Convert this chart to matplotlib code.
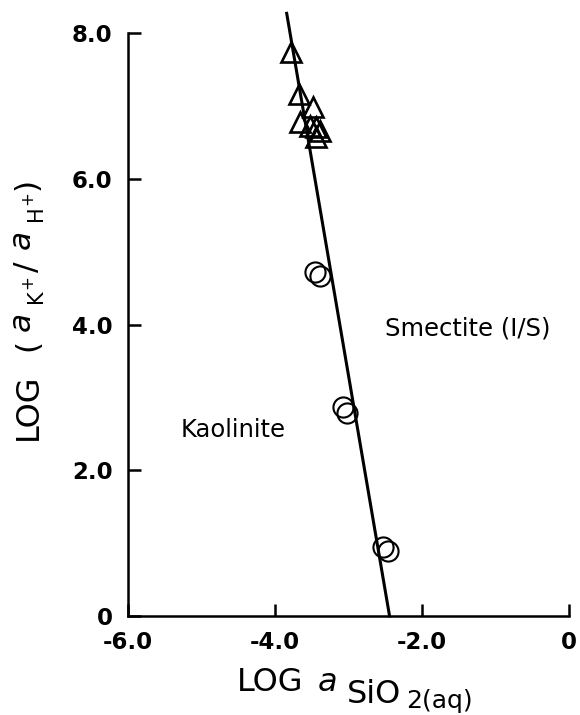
import matplotlib
matplotlib.use('Agg')
import matplotlib.pyplot as plt

plt.rcParams['font.family'] = ['DejaVu Sans']

# 数据: 三角形 (高 log K+/H+) 和圆圈
tri_x = [-3.785, -3.677, -3.486, -3.663, -3.527, -3.446, -3.391, -3.446]
tri_y = [7.74, 7.17, 6.98, 6.78, 6.73, 6.71, 6.66, 6.58]
circ_x = [-3.459, -3.391, -3.079, -3.024, -2.535, -2.467]
circ_y = [4.72, 4.66, 2.87, 2.78, 0.95, 0.89]

# 相界线 Kaolinite / Smectite
line_x = [-3.84, -2.44]
line_y = [8.27, 0.0]

xticks = [-6, -4, -2, 0]
xtick_labels = ['-6.0', '-4.0', '-2.0', '0']
yticks = [0, 2, 4, 6, 8]
ytick_labels = ['0', '2.0', '4.0', '6.0', '8.0']

W, H = 580, 715
fig = plt.figure(figsize=(W / 100, H / 100), dpi=100)
ax = fig.add_axes([0.2207, 0.1385, 0.76, 0.8153])


def put(x, y, s, size, rot=0, **kw):
    """按像素位置(左上角为原点)放一段文字, 锚点为基线起点"""
    fig.text(x / W, 1 - y / H, s, fontsize=size, rotation=rot,
             rotation_mode='anchor', ha='left', va='baseline', **kw)


ax.plot(line_x, line_y, color='black', lw=2.2, clip_on=False, zorder=2)
ax.plot(tri_x, tri_y, linestyle='none', marker='^', ms=15, mfc='none',
        mec='black', mew=1.9, clip_on=False, zorder=3)
ax.plot(circ_x, circ_y, linestyle='none', marker='o', ms=14.5, mfc='none',
        mec='black', mew=1.5, clip_on=False, zorder=3)

ax.text(-2.50, 3.95, 'Smectite (I/S)', fontsize=17.5, va='center', ha='left')
ax.text(-5.29, 2.55, 'Kaolinite', fontsize=17.5, va='center', ha='left')

ax.set_xlim(-6, 0)
ax.set_ylim(0, 8)
ax.set_xticks(xticks)
ax.set_xticklabels(xtick_labels)
ax.set_yticks(yticks)
ax.set_yticklabels(ytick_labels)
ax.tick_params(direction='in', length=9, width=1.8, labelsize=16.5, pad=11)
for lab in ax.get_xticklabels() + ax.get_yticklabels():
    lab.set_fontweight('bold')

for s in ['top', 'right']:
    ax.spines[s].set_visible(False)
for s in ['left', 'bottom']:
    ax.spines[s].set_linewidth(1.8)

# x 轴标题: LOG a_SiO2(aq), 下标分两级
put(237, 691, 'LOG', 23)
put(318, 691, 'a', 23, style='italic')
put(347, 703, 'SiO', 23)
put(406, 708, '2(aq)', 18)

# y 轴标题: LOG (a_K+ / a_H+), 旋转 90 度
put(37, 440, 'LOG', 23, rot=90)
put(36, 351, '(', 22.5, rot=90)
put(30, 331, 'a', 22.5, rot=90, style='italic')
put(42, 303, 'K', 15, rot=90)
put(32, 289, '+', 12, rot=90)
put(36, 272, '/', 22.5, rot=90)
put(30, 249, 'a', 22.5, rot=90, style='italic')
put(42, 221, 'H', 15, rot=90)
put(32, 205, '+', 12, rot=90)
put(36, 190, ')', 22.5, rot=90)

fig.savefig('out.png', dpi=100)
